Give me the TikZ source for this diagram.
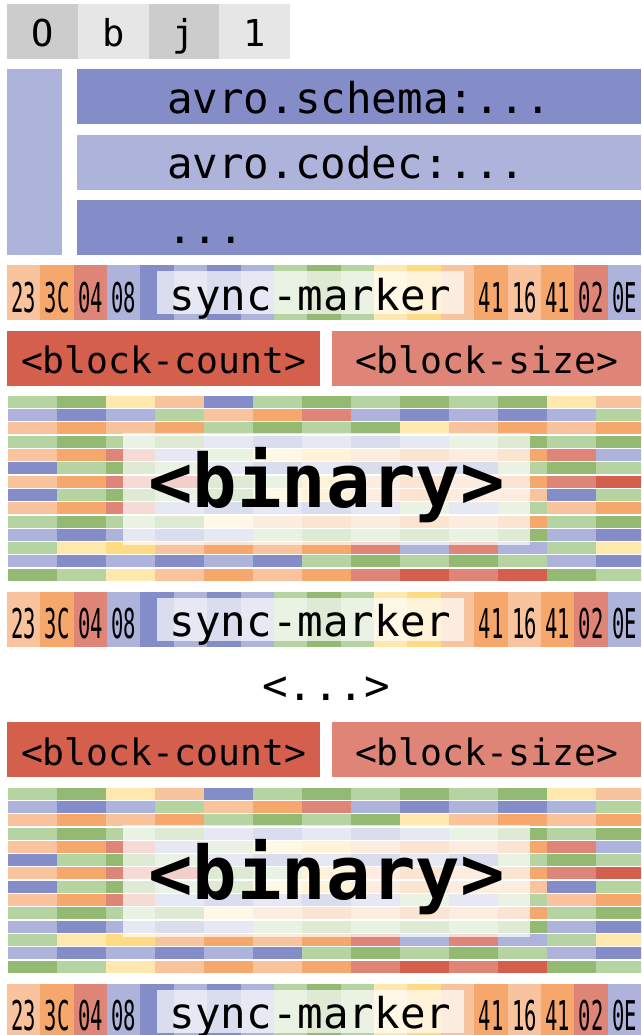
\documentclass[tikz,border=0pt]{standalone}
\usepackage{fontspec}
\usepackage{graphicx}
\usetikzlibrary{calc}
\newfontfamily\monofont{DejaVu Sans Mono}

% palette
\definecolor{cLG}{HTML}{B6D4A2}
\definecolor{cG}{HTML}{93B972}
\definecolor{cLY}{HTML}{FFE8AE}
\definecolor{cY}{HTML}{FFDC84}
\definecolor{cLO}{HTML}{F9C49D}
\definecolor{cO}{HTML}{F6A76C}
\definecolor{cS}{HTML}{DF8577}
\definecolor{cR}{HTML}{D45F4C}
\definecolor{cLB}{HTML}{ADB3DB}
\definecolor{cB}{HTML}{858DC9}
\definecolor{cGl}{HTML}{E6E6E6}
\definecolor{cGd}{HTML}{CCCCCC}

\newcommand\fsize[1]{\fontsize{#1pt}{#1pt}\selectfont}
\newcommand\hexlabel[1]{\scalebox{0.5}[1]{#1}}

\tikzset{
  box/.style={rectangle, inner sep=0pt, outer sep=0pt, anchor=north west},
  headcell/.style={box, minimum width=70.9pt, minimum height=55pt,
    text height=43pt, text depth=12pt, font=\monofont\fsize{37}},
  metabar/.style={box, minimum width=564pt, minimum height=55pt},
  metatext/.style={inner sep=0pt, anchor=base west, font=\monofont\fsize{42.5}},
  synccell/.style={box, minimum width=33.7pt, minimum height=55pt,
    text height=47pt, text depth=8pt, font=\monofont\fsize{41}},
  syncband/.style={box, fill=white, fill opacity=0.7, text opacity=1,
    minimum width=307pt, minimum height=43pt, text height=39pt, text depth=4pt,
    font=\monofont\fsize{42.5}},
  countbox/.style={box, minimum height=55pt, text height=43pt, text depth=12pt,
    font=\monofont\fsize{36.4}},
  binband/.style={box, fill=white, fill opacity=0.7, text opacity=1,
    minimum width=407pt, minimum height=112pt, text height=75pt, text depth=37pt,
    font=\monofont\bfseries\fsize{74}},
}

% one sync-marker row: #1 top edge, #2 node name prefix
\newcommand\syncrow[2]{%
  \foreach \fc/\lab [count=\i] in {cLO/23, cO/3C, cS/04, cLB/08, cB/{}, cLB/{},
      cB/{}, cLB/{}, cLG/{}, cG/{}, cLG/{}, cLY/{}, cY/{}, cLO/{},
      cO/41, cLO/16, cO/41, cS/02, cLB/0E} {
    \node[synccell, fill=\fc] (#2-\i) at ({7+(\i-1)*33.37}, #1) {\hexlabel{\lab}};
  }
  \node[syncband] (#2-label) at (157, #1+6) {sync-marker};
}

% block header: #1 top edge, #2 node name prefix
\newcommand\countrow[2]{%
  \node[countbox, fill=cR, minimum width=313pt] (#2-count) at (7, #1) {<block-count>};
  \node[countbox, fill=cS, minimum width=309pt] (#2-size) at (332, #1) {<block-size>};
}

% binary payload: #1 top edge, #2 node name prefix
\newcommand\binaryblock[2]{%
  \foreach \cells [count=\r] in {
      {cLG,cG,cLY,cLO,cB,cLG,cG,cLG,cG,cLG,cG,cLY,cLO},
      {cLB,cB,cLB,cLG,cLO,cO,cS,cLB,cB,cLB,cB,cLB,cLG},
      {cLO,cO,cLO,cO,cLG,cG,cLG,cG,cLY,cLO,cO,cLO,cO},
      {cLG,cG,cLG,cG,cLB,cB,cLB,cB,cLB,cLG,cG,cLG,cG},
      {cLO,cO,cS,cLB,cLG,cLY,cY,cLO,cO,cLO,cO,cS,cLB},
      {cB,cLG,cG,cLG,cLB,cB,cLB,cB,cLB,cB,cLG,cG,cLG},
      {cLO,cO,cS,cR,cG,cLG,cY,cLO,cO,cLO,cO,cS,cR},
      {cB,cLG,cG,cLG,cG,cLY,cY,cLO,cO,cLO,cLO,cB,cLG},
      {cLO,cO,cS,cLB,cB,cLB,cB,cLB,cLG,cLB,cLG,cLO,cO},
      {cLG,cG,cLG,cG,cLY,cLO,cO,cLO,cO,cLO,cO,cLG,cG},
      {cLB,cB,cLB,cB,cLB,cLG,cG,cLG,cG,cLG,cG,cLB,cB},
      {cLG,cLY,cY,cLO,cO,cLO,cO,cS,cLB,cS,cLB,cLG,cLY},
      {cLB,cB,cLB,cB,cLB,cB,cLG,cG,cLG,cG,cLG,cLB,cB},
      {cG,cLG,cLY,cLO,cO,cLO,cO,cS,cR,cS,cR,cG,cLG}} {
    \foreach \fc [count=\c] in \cells {
      \fill[\fc] ({8+(\c-1)*49}, {#1+(\r-1)*13.3}) rectangle ++(49.3, 12);
    }
  }
  \node[binband] (#2-label) at (123, #1+37) {<binary>};
}

\begin{document}
\begin{tikzpicture}[x=1pt, y=-1pt]
  \useasboundingbox (0,0) rectangle (641,1035);
  \clip (0,0) rectangle (641,1035);

  % magic bytes
  \foreach \ch/\fc [count=\i] in {O/cGd, b/cGl, j/cGd, 1/cGl} {
    \node[headcell, fill=\fc] (head-\i) at ({7+(\i-1)*70.75}, 4) {\ch};
  }

  % file metadata
  \node[box, fill=cLB, minimum width=55pt, minimum height=185.6pt] (meta) at (7, 69.3) {};
  \node[metabar, fill=cB] (schema) at (77, 69.3) {};
  \node[metabar, fill=cLB] (codec) at (77, 134.6) {};
  \node[metabar, fill=cB] (more) at (77, 199.9) {};
  \node[metatext] (schema-text) at ($(schema.north west)+(90,44)$) {avro.schema:...};
  \node[metatext] (codec-text) at ($(codec.north west)+(90,44)$) {avro.codec:...};
  \node[metatext] (more-text) at ($(more.north west)+(90,44)$) {...};

  % first data block
  \syncrow{265.2}{syncA}
  \countrow{330.5}{headA}
  \binaryblock{395.8}{dataA}
  \syncrow{591.7}{syncB}

  % elided blocks
  \node[inner sep=0pt, anchor=base, font=\monofont\fsize{42.5}] (gap) at (326, 700) {<...>};

  % last data block
  \countrow{722.3}{headB}
  \binaryblock{787.6}{dataB}
  \syncrow{983.5}{syncC}
\end{tikzpicture}
\end{document}
